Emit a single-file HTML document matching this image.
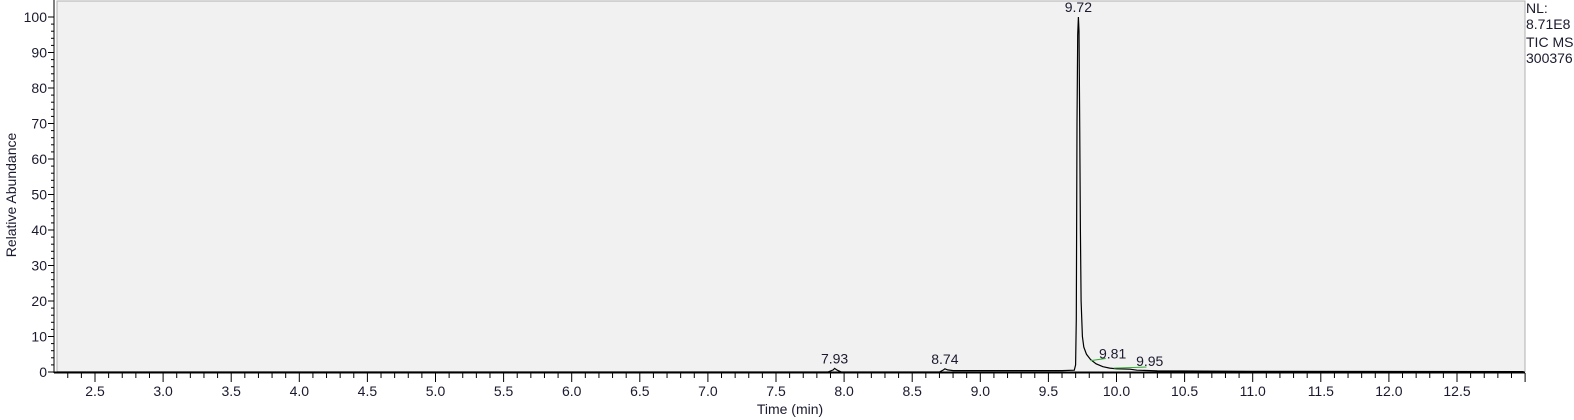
<!DOCTYPE html>
<html><head><meta charset="utf-8"><style>
html,body{margin:0;padding:0;background:#fff;width:1574px;height:420px;overflow:hidden}
svg{display:block;font-family:"Liberation Sans",Arial,sans-serif}
</style></head><body>
<svg id="chart" width="1574" height="420" viewBox="0 0 1574 420" xmlns="http://www.w3.org/2000/svg">
<rect x="57" y="1" width="1468" height="371" fill="#f1f1f1" stroke="#b0b0b0" stroke-width="1"/>
<g id="axes"></g>
<g id="trace"></g>
<text x="790" y="414" font-size="14" text-anchor="middle" fill="#1a1a2e">Time (min)</text>
<text transform="translate(16,195) rotate(-90)" font-size="14" text-anchor="middle" fill="#1a1a2e">Relative Abundance</text>
<g font-size="14" fill="#1a1a2e">
<text x="1526" y="13">NL:</text>
<text x="1526" y="29">8.71E8</text>
<text x="1526" y="47">TIC  MS</text>
<text x="1526" y="63">300376</text>
</g>
</svg>
<script>
const xTicks=[2.5,3.0,3.5,4.0,4.5,5.0,5.5,6.0,6.5,7.0,7.5,8.0,8.5,9.0,9.5,10.0,10.5,11.0,11.5,12.0,12.5];
const yTicks=[0,10,20,30,40,50,60,70,80,90,100];
const times=[2.22,7.88,7.92,7.93,7.95,7.98,8.70,8.73,8.74,8.76,8.80,9.0,9.3,9.6,9.69,9.70,9.705,9.71,9.715,9.72,9.725,9.73,9.735,9.74,9.75,9.76,9.78,9.81,9.85,9.90,9.95,10.0,10.1,10.15,10.3,11,12.99];
const values=[0,0,0.6,1.0,0.5,0,0,0.6,0.9,0.6,0.4,0.4,0.4,0.4,0.5,2,15,70,95,100,96,70,40,20,10,7,5,3.5,2.3,1.5,1.1,0.9,0.8,0.5,0.3,0.2,0.1];
const peakLabels=["7.93","8.74","9.72","9.81","9.95"];
const peakTimes=[7.93,8.74,9.72,9.81,9.95];
const peakHeights=[1.0,0.9,100,3.5,1.1];
const x=t=>95+(t-2.5)*136.2;
const y=v=>372-v*3.55;
const NS="http://www.w3.org/2000/svg";
const ax=document.getElementById('axes');
function mk(tag,attrs,parent){const e=document.createElementNS(NS,tag);for(const k in attrs)e.setAttribute(k,attrs[k]);parent.appendChild(e);return e;}
let l=mk('line',{x1:54,y1:0,x2:54,y2:373,stroke:'#000','stroke-width':1},ax);


l=mk('line',{x1:54,y1:372.5,x2:1525,y2:372.5,stroke:'#000','stroke-width':2},ax);


for(let v=0;v<=100;v+=2){const major=v%10===0;mk('line',{x1:major?48:51,y1:y(v),x2:54,y2:y(v),stroke:'#000','stroke-width':1},ax);}
yTicks.forEach(v=>{const t=mk('text',{x:47,y:y(v)+5,'font-size':14,'text-anchor':'end',fill:'#1a1a2e'},ax);t.textContent=v;

});
for(let t=2.3;t<13.0;t+=0.1){const r=Math.round(t*10)/10;const major=Math.abs(r*2-Math.round(r*2))<1e-6;mk('line',{x1:x(r),y1:373,x2:x(r),y2:major?382:378,stroke:'#000','stroke-width':1},ax);}
xTicks.forEach(v=>{const t=mk('text',{x:x(v),y:396,'font-size':14,'text-anchor':'middle',fill:'#1a1a2e'},ax);t.textContent=v.toFixed(1);

});
const tr=document.getElementById('trace');
const p=mk('polyline',{points:times.map((t,i)=>x(t).toFixed(1)+','+y(values[i]).toFixed(1)).join(' '),fill:'none',stroke:'#000','stroke-width':1.2},tr);


const g1=mk('line',{x1:x(9.81),y1:y(3.2),x2:x(9.92),y2:y(3.8),stroke:'#3a3','stroke-width':1},tr);


const g2=mk('line',{x1:x(9.98),y1:y(1.1),x2:x(10.22),y2:y(1.4),stroke:'#3a3','stroke-width':1},tr);


const dxs=[0,0,0,22,40];
const dys=[0,0,0,4,3];
peakLabels.forEach((s,i)=>{const t=mk('text',{x:x(peakTimes[i])+dxs[i],y:y(peakHeights[i])-5+dys[i],'font-size':14,'text-anchor':'middle',fill:'#1a1a2e'},tr);t.textContent=s;

});
</script>
</body></html>
